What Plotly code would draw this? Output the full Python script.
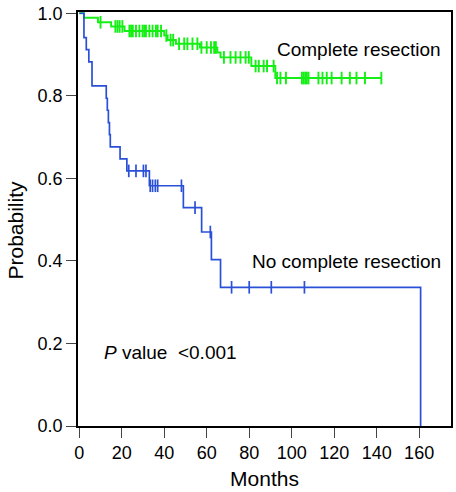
import plotly.graph_objects as go
import numpy as np

# No complete resection (blue): step times and survival after each step
nc_times = [0, 2.2, 3.3, 4.5, 6.0, 12.7, 13.2, 13.7, 14.2, 14.6, 19.2, 22.4, 33.0, 49.0, 57.6, 62.2, 66.5, 160.7]
nc_surv = [1.0, 0.941, 0.912, 0.882, 0.824, 0.794, 0.765, 0.735, 0.706, 0.676, 0.647, 0.618, 0.582, 0.529, 0.470, 0.403, 0.336, 0.0]
nc_censor = [23.3, 26.7, 30.2, 31.4, 33.4, 34.5, 35.8, 36.9, 48.1, 54.5, 61.7, 71.7, 80.0, 90.4, 106.0]

# Complete resection (green)
cr_times = [0, 2.2, 8.8, 15.0, 21.3, 40.0, 41.6, 45.5, 56.8, 65.0, 66.5, 81.0, 92.3]
cr_surv = [1.0, 0.989, 0.978, 0.968, 0.957, 0.946, 0.935, 0.926, 0.917, 0.905, 0.893, 0.872, 0.843]
cr_censor = [10.0, 17.0, 18.0, 19.0, 20.3,
             23.6, 24.4, 25.2, 26.7, 28.3, 29.8, 30.6, 31.4, 33.0, 34.5, 36.1, 36.9, 38.5,
             41.0, 43.0, 44.2, 47.0, 49.4, 50.9, 53.3, 55.6,
             57.5, 60.0, 62.0, 63.5, 64.3,
             68.1, 71.2, 73.6, 75.9, 78.3, 79.8,
             83.0, 84.5, 86.8, 88.4, 91.5,
             93.1, 94.7, 97.3, 104.8, 105.6, 106.4, 107.1, 107.9, 112.6, 114.5, 116.5,
             118.8, 123.5, 127.4, 130.5, 134.5, 142.2]

x_ticks = [0, 20, 40, 60, 80, 100, 120, 140, 160]
y_ticks = [0.0, 0.2, 0.4, 0.6, 0.8, 1.0]

BLUE = "#2b50d8"
GREEN = "#14ef14"


def step_value(times, surv, t):
    idx = np.searchsorted(np.array(times), t, side="right") - 1
    return surv[idx]


fig = go.Figure()


def add_curve(times, surv, censor, color, end_time, width):
    xs = list(times)
    ys = list(surv)
    if end_time > xs[-1]:
        xs.append(end_time)
        ys.append(ys[-1])
    fig.add_trace(go.Scatter(x=xs, y=ys, mode="lines", line=dict(color=color, width=width, shape="hv"),
                             hoverinfo="skip", showlegend=False))
    cy = [step_value(times, surv, t) for t in censor]
    fig.add_trace(go.Scatter(x=censor, y=cy, mode="markers",
                             marker=dict(symbol="line-ns", size=9, line=dict(color=color, width=width)),
                             hoverinfo="skip", showlegend=False))


add_curve(cr_times, cr_surv, cr_censor, GREEN, max(cr_censor), 1.9)
add_curve(nc_times, nc_surv, nc_censor, BLUE, nc_times[-1], 1.7)

FONT = "Liberation Sans, Arial, Helvetica, sans-serif"

fig.add_annotation(x=92.0, y=0.911, text="Complete resection", showarrow=False, xanchor="left",
                   font=dict(family=FONT, size=19, color="black"))
fig.add_annotation(x=80.6, y=0.399, text="No complete resection", showarrow=False, xanchor="left",
                   font=dict(family=FONT, size=19, color="black"))
fig.add_annotation(x=10.8, y=0.179, text="<i>P</i> value  <0.001", showarrow=False, xanchor="left",
                   font=dict(family=FONT, size=19, color="black"))
# y-axis title placed like the reference (slightly below centre)
fig.add_annotation(x=-0.168, y=0.473, xref="paper", yref="paper", text="Probability",
                   textangle=-90, showarrow=False, xanchor="center", yanchor="middle",
                   font=dict(family=FONT, size=21, color="black"))

fig.update_layout(
    width=456, height=492,
    margin=dict(l=78, r=3, t=12, b=66),
    paper_bgcolor="white", plot_bgcolor="white",
    font=dict(family=FONT, color="black"),
    xaxis=dict(range=[-0.6, 175], tickvals=x_ticks, ticktext=[str(v) for v in x_ticks],
               showline=True, linecolor="black", linewidth=1.5, mirror=True,
               ticks="outside", ticklen=10, tickcolor="#444", tickwidth=1,
               tickfont=dict(size=18), showgrid=False, zeroline=False,
               title=dict(text="Months", font=dict(size=21), standoff=9)),
    yaxis=dict(range=[0, 1.003], tickvals=y_ticks, ticktext=[f"{v:.1f}" for v in y_ticks],
               showline=True, linecolor="black", linewidth=1.5, mirror=True,
               ticks="outside", ticklen=10, tickcolor="#444", tickwidth=1,
               tickfont=dict(size=18), showgrid=False, zeroline=False),
)

# remove the browser's default 8px body margin so the figure sits at the page origin
fig.write_html("out.html", config={"displayModeBar": False},
               post_script="document.body.style.margin='0';")
